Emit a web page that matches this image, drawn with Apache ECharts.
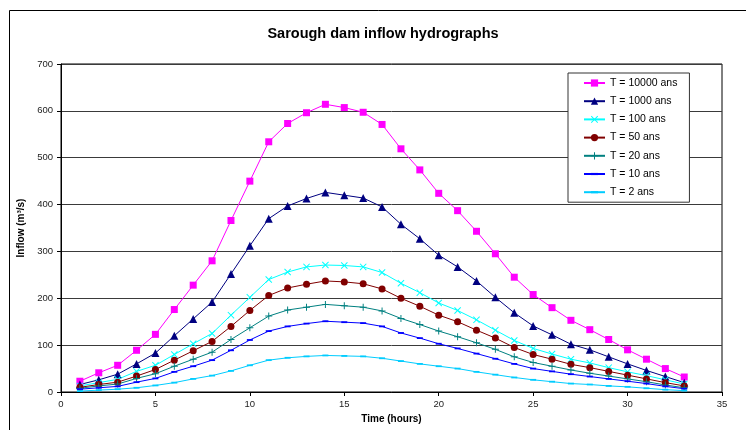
<!DOCTYPE html>
<html>
<head>
<meta charset="utf-8">
<script src="https://cdn.jsdelivr.net/npm/echarts@6/dist/echarts.min.js"></script>
<style>
    html, body {margin:0; padding:0; background:#fff;}
    #container {width:746px; height:430px;}
</style>
</head>
<body>
<div id="container"></div>
<script>

// hours
var hours = [1,2,3,4,5,6,7,8,9,10,11,12,13,14,15,16,17,18,19,20,21,22,23,24,25,26,27,28,29,30,31,32,33];

// inflow (m3/s) per return period
var t10000 = [23,41,57,89,123,176,228,280,366,450,534,573,596,614,607,597,571,519,474,424,387,343,295,245,208,180,153,133,112,90,70,50,32];
var t1000  = [16,26,38,60,83,120,156,192,252,312,370,397,413,426,420,414,395,358,327,292,267,237,202,169,141,122,102,90,75,60,46,33,20];
var t100   = [13,20,27,44,57,80,103,125,164,202,240,256,267,271,270,267,255,232,212,190,174,154,132,110,93,81,70,62,52,43,35,26,17];
var t50    = [10,16,21,34,48,68,88,108,140,174,206,222,230,237,235,231,220,200,183,164,150,132,115,95,80,70,59,52,44,36,28,20,13];
var t20    = [8,13,17,29,39,55,70,85,112,137,162,175,181,187,184,181,173,157,144,130,118,105,91,75,63,55,47,40,34,28,22,15,9];
var t10    = [6,9,12,21,29,43,55,68,89,111,130,140,146,151,149,147,140,126,115,103,93,82,71,60,50,44,38,33,28,23,18,12,7];
var t2     = [2,4,6,9,14,20,28,35,45,57,68,73,76,78,77,76,72,66,60,55,50,43,37,31,26,22,18,16,13,11,8,5,3];

var seriesNames = ['T = 10000 ans','T = 1000 ans','T = 100 ans','T = 50 ans','T = 20 ans','T = 10 ans','T = 2 ans'];

var xTicks = [0,5,10,15,20,25,30,35];
var yTicks = [0,100,200,300,400,500,600,700];

// marker shapes
var crossPath = 'path://M0,1L1,0L5,4L9,0L10,1L6,5L10,9L9,10L5,6L1,10L0,9L4,5Z';
var plusPath  = 'path://M4.3,0H5.7V4.3H10V5.7H5.7V10H4.3V5.7H0V4.3H4.3Z';
var dashPath  = 'path://M0,0M0,3.5H10V6.5H0ZM10,10';

function pairs(arr){
    var out = [];
    for(var i=0;i<arr.length;i++){
        out.push([hours[i], arr[i]]);
    }
    return out;
}

function mkSeries(name, data, color, symbol, size){
    return {
        name:name,
        type:'line',
        data:pairs(data),
        symbol:symbol,
        symbolSize:size,
        showAllSymbol:true,
        animation:false,
        itemStyle:{color:color},
        lineStyle:{color:color, width:1},
        emphasis:{disabled:true}
    };
}

var dom = document.getElementById('container');
var myChart = echarts.init(dom, null, {renderer:'canvas'});

var option = {
    backgroundColor:'#fff',
    animation:false,
    title:{
        text:'Sarough dam inflow hydrographs',
        left:378,
        top:21,
        textAlign:'center',
        textStyle:{fontFamily:'Liberation Sans, Arial', fontWeight:'bold', fontSize:14.5, color:'#000'}
    },
    graphic:[{
        type:'rect',
        shape:{x:9.5, y:10.5, width:800, height:600},
        style:{fill:'none', stroke:'#000', lineWidth:1},
        silent:true,
        z:-1
    }],
    legend:{
        orient:'vertical',
        left:568,
        top:73,
        width:122,
        padding:[4,12,4,15],
        backgroundColor:'#fff',
        borderColor:'#333',
        borderWidth:1,
        itemWidth:21,
        itemHeight:9,
        itemGap:6.2,
        textStyle:{fontFamily:'Liberation Sans, Arial', fontSize:10.5, color:'#000', lineHeight:12},
        data:seriesNames
    },
    grid:{
        left:61,
        right:24,
        top:64,
        bottom:38,
        show:true,
        borderColor:'#000',
        borderWidth:1,
        containLabel:false
    },
    xAxis:{
        type:'value',
        min:xTicks[0],
        max:xTicks[xTicks.length-1],
        interval:5,
        name:'Time (hours)',
        nameLocation:'middle',
        nameGap:22,
        nameTextStyle:{fontFamily:'Liberation Sans, Arial', fontWeight:'bold', fontSize:10, color:'#000'},
        axisLine:{show:true, lineStyle:{color:'#000', width:1}},
        axisTick:{show:true, inside:false, length:4, lineStyle:{color:'#000'}},
        axisLabel:{fontFamily:'Liberation Sans, Arial', fontSize:9.5, color:'#222', margin:7},
        splitLine:{show:false}
    },
    yAxis:{
        type:'value',
        min:yTicks[0],
        max:yTicks[yTicks.length-1],
        interval:100,
        name:'Inflow (m³/s)',
        nameLocation:'middle',
        nameGap:27,
        nameRotate:90,
        nameTextStyle:{fontFamily:'Liberation Sans, Arial', fontWeight:'bold', fontSize:10, color:'#000'},
        axisLine:{show:true, lineStyle:{color:'#000', width:1}},
        axisTick:{show:true, inside:false, length:4, lineStyle:{color:'#000'}},
        axisLabel:{fontFamily:'Liberation Sans, Arial', fontSize:9.5, color:'#222', margin:8},
        splitLine:{show:true, lineStyle:{color:'#3a3a3a', width:1}}
    },
    series:[
        mkSeries(seriesNames[0], t10000, '#ff00ff', 'rect', 7),
        mkSeries(seriesNames[1], t1000, '#000080', 'triangle', 8),
        mkSeries(seriesNames[2], t100, '#00ffff', crossPath, 7),
        mkSeries(seriesNames[3], t50, '#800000', 'circle', 7),
        mkSeries(seriesNames[4], t20, '#008080', plusPath, 7),
        mkSeries(seriesNames[5], t10, '#0000ff', dashPath, 6),
        mkSeries(seriesNames[6], t2, '#00ccff', dashPath, 6)
    ]
};

myChart.setOption(option, true);

</script>
</body>
</html>
